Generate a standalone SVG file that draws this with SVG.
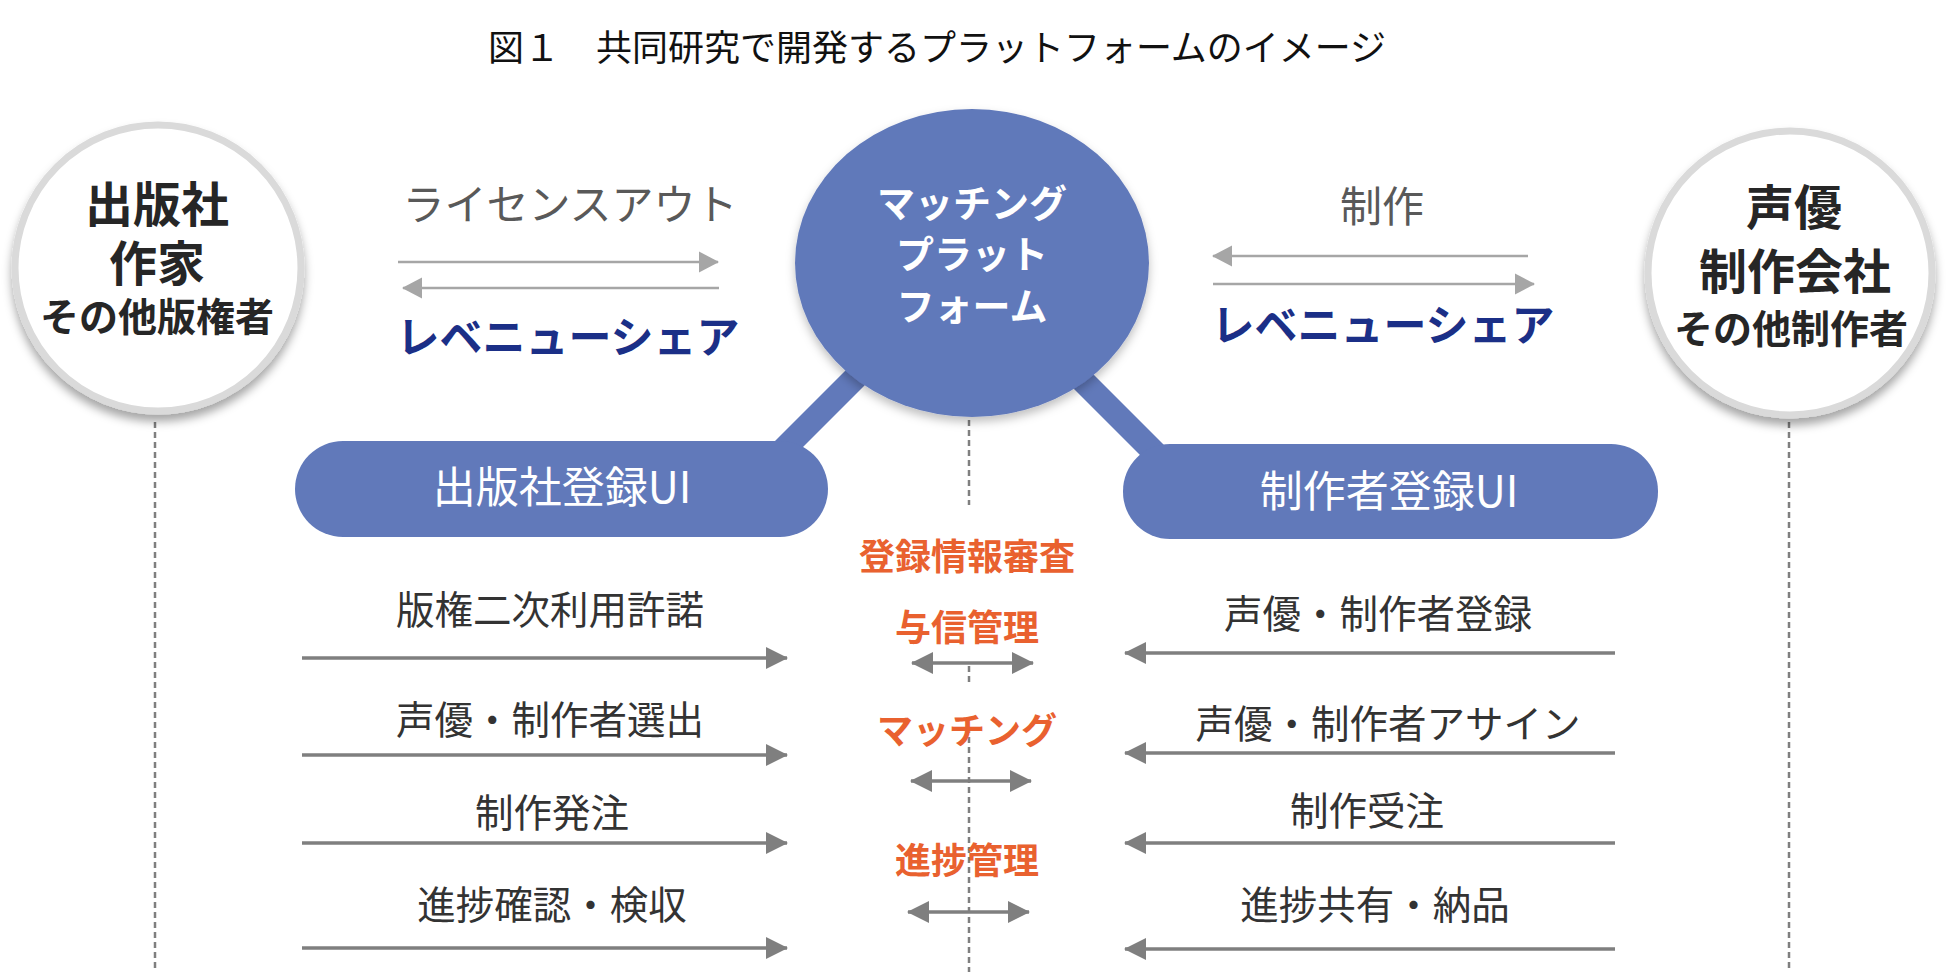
<svg xmlns="http://www.w3.org/2000/svg" width="1950" height="977" viewBox="0 0 1950 977">
<style>
text{font-family:"Noto Sans CJK JP","Noto Sans CJK SC",sans-serif;text-anchor:middle}
.title{font-size:36px;fill:#111}
.big{font-size:48px;font-weight:700;fill:#262626}
.sub{font-size:39px;font-weight:700;fill:#262626}
.plat{font-size:38px;font-weight:700;fill:#fff}
.pill{font-size:43px;fill:#fff}
.lic{font-size:42px;fill:#595959}
.rev{font-size:43px;font-weight:700;fill:#1B2F87}
.org{font-size:36px;font-weight:700;fill:#E9612F}
.lbl{font-size:38.5px;fill:#333}
.flow{stroke:#7f7f7f;stroke-width:3.5;fill:none}
.top{stroke:#a6a6a6;stroke-width:2.5;fill:none}
.dash{stroke:#7f7f7f;stroke-width:2.5;stroke-dasharray:6 4;fill:none}
.bar{stroke:#6179BA;stroke-width:24;stroke-linecap:butt}
</style>
<defs>
<marker id="ah" markerUnits="userSpaceOnUse" markerWidth="22" markerHeight="24" refX="21" refY="11" orient="auto-start-reverse" viewBox="0 0 22 22">
<path d="M0,0 L22,11 L0,22 z" fill="#7f7f7f"/>
</marker>
<marker id="ahl" markerUnits="userSpaceOnUse" markerWidth="20" markerHeight="22" refX="19" refY="10.5" orient="auto-start-reverse" viewBox="0 0 20 21">
<path d="M0,0 L20,10.5 L0,21 z" fill="#a6a6a6"/>
</marker>
<filter id="sh" x="-20%" y="-20%" width="140%" height="150%">
<feDropShadow dx="0" dy="7" stdDeviation="5" flood-color="#000" flood-opacity="0.35"/>
</filter>
<filter id="sh2" x="-20%" y="-20%" width="140%" height="150%">
<feDropShadow dx="0" dy="5" stdDeviation="5" flood-color="#000" flood-opacity="0.25"/>
</filter>
</defs>
<rect width="1950" height="977" fill="#fff"/>
<text class="title" x="937" y="61">図１　共同研究で開発するプラットフォームのイメージ</text>

<g id="connectors">
<line class="dash" x1="155" y1="422" x2="155" y2="972"/>
<line class="dash" x1="1789" y1="422" x2="1789" y2="972"/>
<line class="dash" x1="969" y1="420" x2="969" y2="505"/>
<line class="dash" x1="969" y1="666" x2="969" y2="683"/>
<line class="dash" x1="969" y1="727" x2="969" y2="972"/>
<line class="bar" x1="925" y1="308" x2="772" y2="461"/>
<line class="bar" x1="1060" y1="358" x2="1165" y2="463"/>
<line class="top" x1="398" y1="262" x2="718" y2="262" marker-end="url(#ahl)"/>
<line class="top" x1="403" y1="288" x2="719" y2="288" marker-start="url(#ahl)"/>
<line class="top" x1="1213" y1="256" x2="1528" y2="256" marker-start="url(#ahl)"/>
<line class="top" x1="1213" y1="284" x2="1534" y2="284" marker-end="url(#ahl)"/>
<line class="flow" x1="302" y1="658" x2="787" y2="658" marker-end="url(#ah)"/>
<line class="flow" x1="302" y1="755" x2="787" y2="755" marker-end="url(#ah)"/>
<line class="flow" x1="302" y1="843" x2="787" y2="843" marker-end="url(#ah)"/>
<line class="flow" x1="302" y1="948" x2="787" y2="948" marker-end="url(#ah)"/>
<line class="flow" x1="1125" y1="653" x2="1615" y2="653" marker-start="url(#ah)"/>
<line class="flow" x1="1125" y1="753" x2="1615" y2="753" marker-start="url(#ah)"/>
<line class="flow" x1="1125" y1="843" x2="1615" y2="843" marker-start="url(#ah)"/>
<line class="flow" x1="1125" y1="949" x2="1615" y2="949" marker-start="url(#ah)"/>
<line class="flow" x1="912" y1="663" x2="1033" y2="663" marker-start="url(#ah)" marker-end="url(#ah)"/>
<line class="flow" x1="911" y1="781" x2="1031" y2="781" marker-start="url(#ah)" marker-end="url(#ah)"/>
<line class="flow" x1="908" y1="912" x2="1029" y2="912" marker-start="url(#ah)" marker-end="url(#ah)"/>
</g>

<g id="left-circle">
<circle cx="158" cy="268" r="143" fill="#fff" stroke="#dadada" stroke-width="7" filter="url(#sh)"/>
<text class="big" x="157" y="222">出版社</text>
<text class="big" x="157" y="281">作家</text>
<text class="sub" x="157" y="331">その他版権者</text>
</g>

<g id="right-circle">
<circle cx="1790" cy="273" r="142" fill="#fff" stroke="#dadada" stroke-width="7" filter="url(#sh)"/>
<text class="big" x="1794" y="225">声優</text>
<text class="big" x="1795" y="289">制作会社</text>
<text class="sub" x="1791" y="343">その他制作者</text>
</g>

<g id="platform">
<ellipse cx="972" cy="263" rx="177" ry="154" fill="#6179BA" filter="url(#sh2)"/>
<text class="plat" x="972" y="217">マッチング</text>
<text class="plat" x="972" y="268">プラット</text>
<text class="plat" x="972" y="320">フォーム</text>
</g>

<g id="publisher-ui">
<rect x="295" y="441" width="533" height="96" rx="48" fill="#6179BA"/>
<text class="pill" x="562" y="503">出版社登録UI</text>
</g>

<g id="creator-ui">
<rect x="1123" y="444" width="535" height="95" rx="47" fill="#6179BA"/>
<text class="pill" x="1389" y="507">制作者登録UI</text>
</g>

<g id="license-labels">
<text class="lic" x="570" y="220">ライセンスアウト</text>
<text class="rev" x="568" y="353">レベニューシェア</text>
<text class="lic" x="1382" y="222">制作</text>
<text class="rev" x="1383" y="341">レベニューシェア</text>
</g>

<g id="platform-functions">
<text class="org" x="967" y="570">登録情報審査</text>
<text class="org" x="967" y="641">与信管理</text>
<text class="org" x="967" y="744">マッチング</text>
<text class="org" x="967" y="874">進捗管理</text>
</g>

<g id="publisher-flows">
<text class="lbl" x="550" y="624">版権二次利用許諾</text>
<text class="lbl" x="550" y="734">声優・制作者選出</text>
<text class="lbl" x="552" y="827">制作発注</text>
<text class="lbl" x="552" y="919">進捗確認・検収</text>
</g>

<g id="creator-flows">
<text class="lbl" x="1378" y="628">声優・制作者登録</text>
<text class="lbl" x="1388" y="738">声優・制作者アサイン</text>
<text class="lbl" x="1367" y="825">制作受注</text>
<text class="lbl" x="1375" y="919">進捗共有・納品</text>
</g>
</svg>
